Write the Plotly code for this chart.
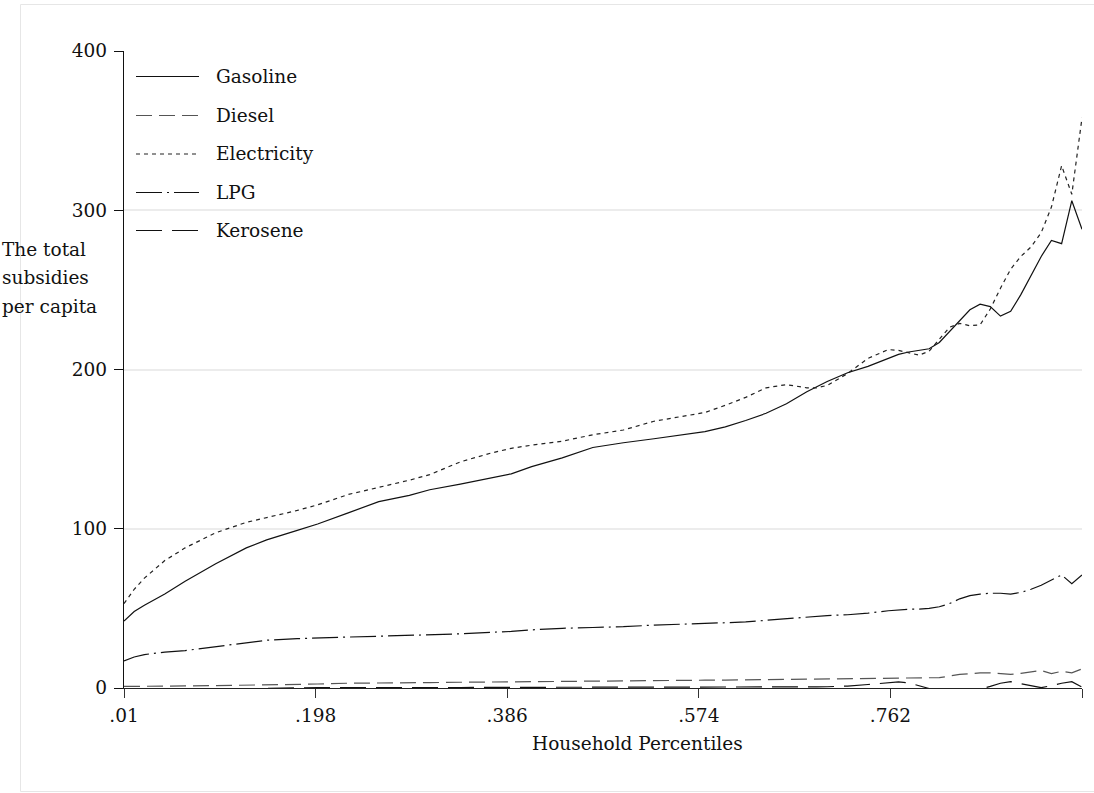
import plotly.graph_objects as go

# Household percentile grid
percentile = [.01, .02, .03, .05, .07, .10, .13, .15, .18, .20,
              .23, .26, .29, .31, .34, .37, .39, .41, .44, .47,
              .50, .53, .56, .58, .60, .62, .64, .66, .68, .69,
              .70, .72, .74, .76, .77, .78, .79, .80, .81, .82,
              .83, .84, .85, .86, .87, .88, .89, .90, .91, .92,
              .93, .94, .95]

# Total subsidies per capita by fuel
gasoline = [42, 48, 52, 59, 67, 78, 88, 93, 99, 103,
            110, 117, 121, 124.5, 128, 132, 134.5, 139, 144.5, 151,
            154, 156.5, 159, 161, 164, 168, 172.5, 178.5, 186, 189.5,
            192.5, 198, 202, 207, 209.5, 211, 212, 213, 217, 224,
            231, 237.5, 241, 239.5, 233.5, 236.5, 247, 259, 271, 281,
            279, 306, 288]
diesel = [1, 1, 1, 1.2, 1.3, 1.5, 1.7, 2, 2.3, 2.5,
          3, 3, 3.2, 3.4, 3.6, 3.8, 4, 4.2, 4.3, 4.4,
          4.5, 4.6, 4.8, 4.9, 5, 5.1, 5.3, 5.5, 5.6, 5.7,
          5.8, 6, 6, 6.2, 6, 6, 6, 6, 6.5, 7.5,
          8.5, 9, 9.5, 9.5, 8.8, 8.5, 9.2, 10.3, 11, 9,
          10.5, 9.5, 12]
electricity = [53, 62, 69, 80, 88, 97.5, 104, 107, 111.5, 115,
               121.5, 126, 130.5, 134, 142, 147.5, 150.5, 152.5, 155, 159,
               162, 167.5, 171, 173, 177.5, 182.5, 188.5, 190.5, 188.5, 188.5,
               190, 197.5, 207, 212.5, 212, 210.5, 209, 211.5, 219, 226.5,
               229, 227.5, 228, 238, 251, 263, 271, 277, 286, 302,
               328, 310, 358]
lpg = [17, 19.5, 21, 22.5, 23.5, 26, 28.5, 30, 31, 31.5,
       32, 32.5, 33, 33.5, 34, 35, 35.5, 36.5, 37.5, 38,
       38.5, 39.5, 40, 40.5, 41, 41.5, 42.5, 43.5, 44.5, 45,
       45.5, 46, 47, 48.5, 49, 49.5, 49.5, 50, 51, 53,
       56, 58, 59, 59.5, 59.5, 59, 60, 62, 64.5, 67.5,
       71, 65.5, 71]
kerosene = [-1.7, -1.6, -1.5, -1.3, -1.0, -0.6, -0.2, 0, 0.2, 0.3,
            0.3, 0.2, 0.2, 0.3, 0.3, 0.4, 0.4, 0.5, 0.5, 0.5,
            0.5, 0.5, 0.6, 0.5, 0.4, 0.3, 0.4, 0.5, 0.6, 0.7,
            0.8, 1.2, 2.2, 3.5, 3.8, 3.2, 1.5, -0.3, -1.2, -1.5,
            -1.5, -1.3, -0.8, 1, 3, 4, 2.8, 1.3, 0.2, 1.5,
            3, 4, 0.5]

x_tick_vals = [.01, .198, .386, .574, .762, .95]
x_tick_text = [".01", ".198", ".386", ".574", ".762", ".95"]
y_tick_vals = [0, 100, 200, 300, 400]

series_names = ["Gasoline", "Diesel", "Electricity", "LPG", "Kerosene"]
series_values = [gasoline, diesel, electricity, lpg, kerosene]
series_colors = ["#111111", "#555555", "#222222", "#111111", "#111111"]
series_dash = ["solid", "16px,7px", "4px,4px", "26px,5px,2px,5px", "26px,10px"]

FONT = "DejaVu Serif"
FS = 18.5
W, H = 1094, 793
L, R, T, B = 124, 12, 51, 105
PW, PH = W - L - R, H - T - B


def px_x(px):
    return (px - L) / PW


def px_y(py):
    return (H - B - py) / PH


fig = go.Figure()
for name, vals, col, dash in zip(series_names, series_values, series_colors, series_dash):
    fig.add_trace(go.Scatter(
        x=percentile, y=vals, mode="lines", name=name,
        line=dict(color=col, width=1.2, dash=dash),
        showlegend=False,
    ))

shapes = []
annotations = []

# outer graph-region frame
shapes.append(dict(type="rect", xref="paper", yref="paper",
                   x0=px_x(20.5), x1=px_x(1110), y0=px_y(791.5), y1=px_y(4.5),
                   line=dict(color="#e6e6e6", width=1), fillcolor="rgba(0,0,0,0)",
                   layer="below"))

# legend inside the plot region
legend_rows = [76.5, 115.5, 154, 192.5, 230.5]
for name, col, dash, ry in zip(series_names, series_colors, series_dash, legend_rows):
    shapes.append(dict(type="line", xref="paper", yref="paper",
                       x0=px_x(136), x1=px_x(199), y0=px_y(ry), y1=px_y(ry),
                       line=dict(color=col, width=1.2, dash=dash)))
    annotations.append(dict(text=name, xref="paper", yref="paper",
                            x=px_x(214), y=px_y(ry), xanchor="left", yanchor="middle",
                            showarrow=False, font=dict(family=FONT, size=FS, color="#111111")))

# y-axis title, three left-aligned lines
for line, ry in zip(["The total", "subsidies", "per capita"], [249, 277.5, 306]):
    annotations.append(dict(text=line, xref="paper", yref="paper",
                            x=px_x(0), y=px_y(ry), xanchor="left", yanchor="middle",
                            showarrow=False, font=dict(family=FONT, size=FS, color="#111111")))

# x-axis title
annotations.append(dict(text="Household Percentiles", xref="paper", yref="paper",
                        x=px_x(637), y=px_y(743), xanchor="center", yanchor="middle",
                        showarrow=False, font=dict(family=FONT, size=FS, color="#111111")))

fig.update_layout(
    width=W, height=H,
    margin=dict(l=L, r=R, t=T, b=B, pad=0),
    paper_bgcolor="white", plot_bgcolor="white",
    font=dict(family=FONT, size=FS, color="#111111"),
    shapes=shapes, annotations=annotations,
    showlegend=False,
    xaxis=dict(range=[.01, .95], tickvals=x_tick_vals, ticktext=x_tick_text,
               showgrid=False, zeroline=False,
               showline=True, linecolor="#222222", linewidth=1.2,
               ticks="outside", ticklen=9, tickwidth=1.2, tickcolor="#333333",
               ticklabelstandoff=2,
               tickfont=dict(family=FONT, size=FS, color="#111111")),
    yaxis=dict(range=[0, 400], tickvals=y_tick_vals,
               showgrid=True, gridcolor="#ececec", gridwidth=2, zeroline=False,
               showline=True, linecolor="#111111", linewidth=1.3,
               ticks="outside", ticklen=9, tickwidth=1.3, tickcolor="#111111",
               ticklabelstandoff=3,
               tickfont=dict(family=FONT, size=FS, color="#111111")),
)

fig.write_html("out.html")
